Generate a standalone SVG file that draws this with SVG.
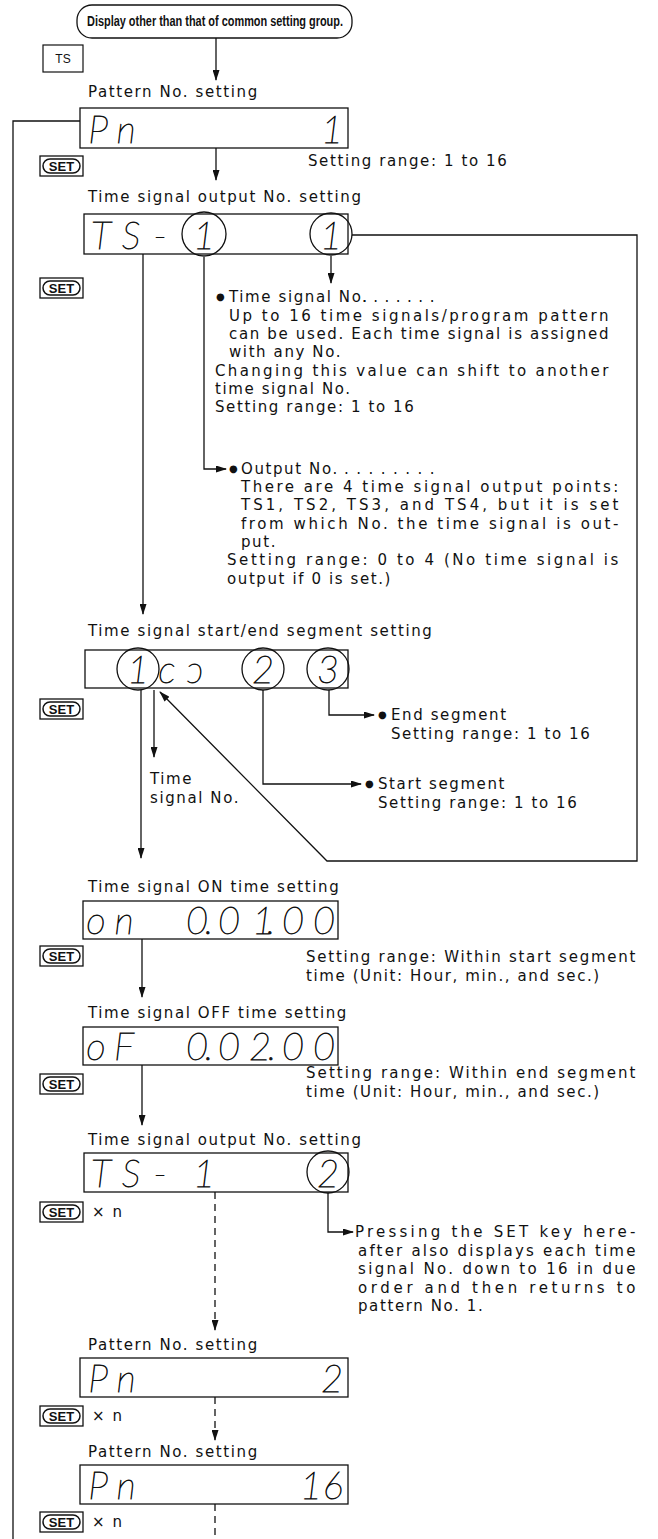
<svg xmlns="http://www.w3.org/2000/svg" width="658" height="1539" viewBox="0 0 658 1539">
<style>
.t{font-family:"DejaVu Sans",sans-serif;font-size:15px;letter-spacing:1.6px;fill:#111}
.b{font-family:"DejaVu Sans",sans-serif;font-size:10px;fill:#111}
.seg{font-family:Lato,"DejaVu Sans",sans-serif;font-style:italic;font-weight:200;font-size:38px;fill:#111;stroke:#111;stroke-width:0.8;text-anchor:middle}
.box{fill:#fff;stroke:#111;stroke-width:1.3}
.cir{fill:none;stroke:#111;stroke-width:1.3}
.ln{fill:none;stroke:#111;stroke-width:1.3}
.dash{stroke-dasharray:7 5}
.key{fill:#fff;stroke:#111;stroke-width:1.3}
.keyin{fill:none;stroke:#111;stroke-width:1.5}
.keyt{font-family:"Liberation Sans Narrow","Liberation Sans",sans-serif;font-weight:bold;font-size:13px;fill:#111;text-anchor:middle}
.pill{font-family:"Liberation Sans Narrow","Liberation Sans",sans-serif;font-weight:bold;font-size:14px;fill:#111}
</style>
<defs>
<marker id="ah" markerUnits="userSpaceOnUse" markerWidth="11" markerHeight="7" refX="10" refY="3.5" orient="auto">
<path d="M0,0 L11,3.5 L0,7 z" fill="#111"/>
</marker>
</defs>
<rect width="658" height="1539" fill="#fff"/>

<g id="connectors">
<line class="ln" x1="216" y1="38" x2="216" y2="80" marker-end="url(#ah)"/>
<line class="ln" x1="216" y1="148" x2="216" y2="180" marker-end="url(#ah)"/>
<polyline class="ln" points="80,121 13,121 13,1539"/>
<polyline class="ln" points="352,235 637,235 637,861 327,861 160,692" marker-end="url(#ah)"/>
<line class="ln" x1="331" y1="256" x2="331" y2="283" marker-end="url(#ah)"/>
<polyline class="ln" points="204,257 204,469 226,469" marker-end="url(#ah)"/>
<line class="ln" x1="143" y1="254" x2="143" y2="614" marker-end="url(#ah)"/>
<line class="ln" x1="141" y1="690" x2="141" y2="858" marker-end="url(#ah)"/>
<line class="ln" x1="154" y1="690" x2="154" y2="757" marker-end="url(#ah)"/>
<polyline class="ln" points="263,690 263,784 361,784" marker-end="url(#ah)"/>
<polyline class="ln" points="329,690 329,715 374,715" marker-end="url(#ah)"/>
<line class="ln" x1="142" y1="939" x2="142" y2="997" marker-end="url(#ah)"/>
<line class="ln" x1="142" y1="1065" x2="142" y2="1125" marker-end="url(#ah)"/>
<line class="ln dash" x1="215" y1="1192" x2="215" y2="1330" marker-end="url(#ah)"/>
<polyline class="ln" points="328,1193 328,1232 353,1232" marker-end="url(#ah)"/>
<line class="ln dash" x1="215" y1="1397" x2="215" y2="1440" marker-end="url(#ah)"/>
<line class="ln dash" x1="215" y1="1504" x2="215" y2="1539"/>
</g>

<g id="start">
<rect x="77" y="5" width="275" height="33" rx="15" fill="#fff" stroke="#111" stroke-width="1.3"/>
<text class="pill" x="87" y="26" textLength="256" lengthAdjust="spacingAndGlyphs">Display other than that of common setting group.</text>
</g>

<g id="ts-key">
<rect x="43" y="45" width="40" height="27" fill="#fff" stroke="#111" stroke-width="1.2"/>
<text x="63" y="63" font-family="Liberation Sans, sans-serif" font-size="12" text-anchor="middle" fill="#111">TS</text>
</g>

<g id="pattern1">
<text class="t" x="88" y="97">Pattern No. setting</text>
<rect class="box" x="80" y="108" width="268" height="40"/>
<text class="seg" x="98 126 332" y="143">Pn1</text>
<text class="t" x="308" y="166">Setting range: 1 to 16</text>
</g>
<g id="set1"><rect class="key" x="40" y="156" width="43" height="20"/><rect class="keyin" x="43" y="159" width="37" height="14" rx="7"/><text class="keyt" x="61.5" y="171">SET</text></g>

<g id="tsout1">
<text class="t" x="88" y="202">Time signal output No. setting</text>
<rect class="box" x="84" y="214" width="264" height="40"/>
<circle class="cir" cx="204" cy="234" r="22"/>
<circle class="cir" cx="331" cy="234" r="21"/>
<text class="seg" x="101 131 160 204 331" y="249">TS-11</text>
</g>
<g id="set2"><rect class="key" x="40" y="278" width="43" height="20"/><rect class="keyin" x="43" y="281" width="37" height="14" rx="7"/><text class="keyt" x="61.5" y="293">SET</text></g>

<g id="note-tsno">
<text class="b" x="216" y="300">●</text>
<text class="t" x="229" y="302">Time signal No.</text>
<text class="t" x="362" y="302" textLength="74" lengthAdjust="spacing">. . . . . . .</text>
<text class="t" x="229" y="321" textLength="381" lengthAdjust="spacing">Up to 16 time signals/program pattern</text>
<text class="t" x="229" y="339" textLength="381" lengthAdjust="spacing">can be used. Each time signal is assigned</text>
<text class="t" x="229" y="357">with any No.</text>
<text class="t" x="215" y="376" textLength="395" lengthAdjust="spacing">Changing this value can shift to another</text>
<text class="t" x="215" y="394">time signal No.</text>
<text class="t" x="215" y="412">Setting range: 1 to 16</text>
</g>

<g id="note-output">
<text class="b" x="229" y="472">●</text>
<text class="t" x="241" y="474">Output No.</text>
<text class="t" x="344" y="474" textLength="92" lengthAdjust="spacing">. . . . . . . .</text>
<text class="t" x="241" y="492" textLength="379" lengthAdjust="spacing">There are 4 time signal output points:</text>
<text class="t" x="241" y="510" textLength="379" lengthAdjust="spacing">TS1, TS2, TS3, and TS4, but it is set</text>
<text class="t" x="241" y="529" textLength="379" lengthAdjust="spacing">from which No. the time signal is out-</text>
<text class="t" x="241" y="547">put.</text>
<text class="t" x="227" y="565" textLength="393" lengthAdjust="spacing">Setting range: 0 to 4 (No time signal is</text>
<text class="t" x="227" y="584">output if 0 is set.)</text>
</g>

<g id="segment">
<text class="t" x="88" y="636">Time signal start/end segment setting</text>
<rect class="box" x="85" y="650" width="263" height="38"/>
<circle class="cir" cx="138" cy="669" r="21"/>
<circle class="cir" cx="263" cy="669" r="21"/>
<circle class="cir" cx="328" cy="669" r="21"/>
<text class="seg" x="138 167 195 263 328" y="683">1cɔ23</text>
</g>
<g id="set3"><rect class="key" x="40" y="699" width="43" height="20"/><rect class="keyin" x="43" y="702" width="37" height="14" rx="7"/><text class="keyt" x="61.5" y="714">SET</text></g>

<g id="note-end">
<text class="b" x="378" y="718">●</text>
<text class="t" x="391" y="720">End segment</text>
<text class="t" x="391" y="739">Setting range: 1 to 16</text>
</g>
<g id="note-start">
<text class="b" x="365" y="787">●</text>
<text class="t" x="378" y="789">Start segment</text>
<text class="t" x="378" y="808">Setting range: 1 to 16</text>
</g>
<g id="note-time">
<text class="t" x="150" y="784">Time</text>
<text class="t" x="150" y="803">signal No.</text>
</g>

<g id="ontime">
<text class="t" x="88" y="892">Time signal ON time setting</text>
<rect class="box" x="83" y="901" width="255" height="38"/>
<text class="seg" x="96 124 197 209 229 263 271 293 324" y="934">on0.01.00</text>
<text class="t" x="306" y="962" textLength="331" lengthAdjust="spacing">Setting range: Within start segment</text>
<text class="t" x="306" y="981">time (Unit: Hour, min., and sec.)</text>
</g>
<g id="set4"><rect class="key" x="40" y="946" width="43" height="20"/><rect class="keyin" x="43" y="949" width="37" height="14" rx="7"/><text class="keyt" x="61.5" y="961">SET</text></g>

<g id="offtime">
<text class="t" x="88" y="1018">Time signal OFF time setting</text>
<rect class="box" x="83" y="1027" width="255" height="38"/>
<text class="seg" x="96 124 197 209 229 260 272 293 324" y="1060">oF0.02.00</text>
<text class="t" x="306" y="1078" textLength="331" lengthAdjust="spacing">Setting range: Within end segment</text>
<text class="t" x="306" y="1097">time (Unit: Hour, min., and sec.)</text>
</g>
<g id="set5"><rect class="key" x="40" y="1074" width="43" height="20"/><rect class="keyin" x="43" y="1077" width="37" height="14" rx="7"/><text class="keyt" x="61.5" y="1089">SET</text></g>

<g id="tsout2">
<text class="t" x="88" y="1145">Time signal output No. setting</text>
<rect class="box" x="84" y="1153" width="264" height="39"/>
<circle class="cir" cx="328" cy="1172" r="21"/>
<text class="seg" x="101 131 160 204 328" y="1187">TS-12</text>
</g>
<g id="set6"><rect class="key" x="40" y="1202" width="43" height="20"/><rect class="keyin" x="43" y="1205" width="37" height="14" rx="7"/><text class="keyt" x="61.5" y="1217">SET</text><text class="t" x="92" y="1217">× n</text></g>

<g id="note-pressing">
<text class="t" x="355" y="1237" textLength="282" lengthAdjust="spacing">Pressing the SET key here-</text>
<text class="t" x="358" y="1256" textLength="279" lengthAdjust="spacing">after also displays each time</text>
<text class="t" x="358" y="1274" textLength="279" lengthAdjust="spacing">signal No. down to 16 in due</text>
<text class="t" x="358" y="1293" textLength="279" lengthAdjust="spacing">order and then returns to</text>
<text class="t" x="358" y="1311">pattern No. 1.</text>
</g>

<g id="pattern2">
<text class="t" x="88" y="1350">Pattern No. setting</text>
<rect class="box" x="80" y="1358" width="268" height="39"/>
<text class="seg" x="98 126 332" y="1392">Pn2</text>
</g>
<g id="set7"><rect class="key" x="40" y="1406" width="43" height="20"/><rect class="keyin" x="43" y="1409" width="37" height="14" rx="7"/><text class="keyt" x="61.5" y="1421">SET</text><text class="t" x="92" y="1421">× n</text></g>

<g id="pattern16">
<text class="t" x="88" y="1457">Pattern No. setting</text>
<rect class="box" x="80" y="1465" width="268" height="39"/>
<text class="seg" x="98 126 311 333" y="1499">Pn16</text>
</g>
<g id="set8"><rect class="key" x="40" y="1512" width="43" height="20"/><rect class="keyin" x="43" y="1515" width="37" height="14" rx="7"/><text class="keyt" x="61.5" y="1527">SET</text><text class="t" x="92" y="1527">× n</text></g>
</svg>
